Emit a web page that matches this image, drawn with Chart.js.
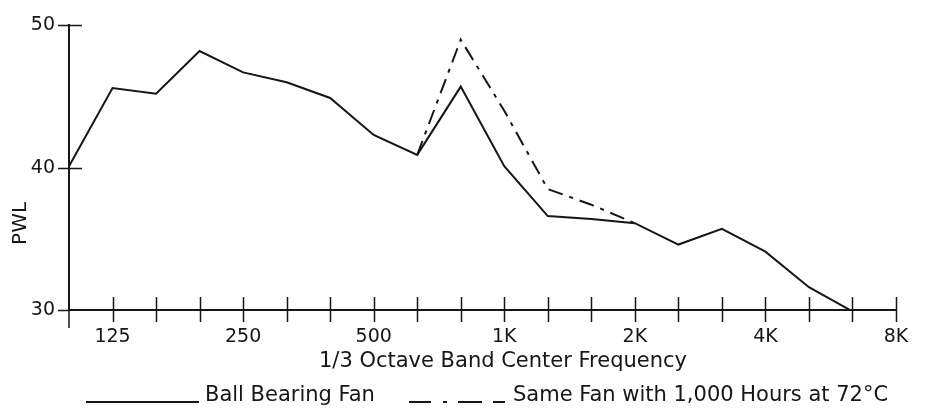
<!DOCTYPE html>
<html>
<head>
<meta charset="utf-8">
<script src="https://cdn.jsdelivr.net/npm/chart.js@4"></script>
<style>
  body { margin: 0; background: #fff; }
  #wrap { position: relative; width: 925px; height: 414px; }
  .legend-item { position: absolute; top: 384px; height: 21px; }
  .legend-item svg { position: absolute; left: 0; top: 16px; }
  .legend-item span {
    position: absolute; top: 0; white-space: nowrap;
    font: 21px/21px "DejaVu Sans", sans-serif; color: #161616;
  }
</style>
</head>
<body>
<div id="wrap">
  <canvas id="pwlChart" width="925" height="414"></canvas>
</div>
<script>
// 1/3 octave band centres, 100 Hz .. 8 kHz
const bands = ['100', '125', '160', '200', '250', '315', '400', '500', '630', '800',
  '1K', '1.25K', '1.6K', '2K', '2.5K', '3.15K', '4K', '5K', '6.3K', '8K'];
const shownBands = ['125', '250', '500', '1K', '2K', '4K', '8K'];

const seriesNames = ['Ball Bearing Fan', 'Same Fan with 1,000 Hours at 72\u00B0C'];

const ballBearingFan = [40.1, 45.6, 45.2, 48.2, 46.7, 46.0, 44.9, 42.3, 40.9, 45.7,
  40.1, 36.6, 36.4, 36.1, 34.6, 35.7, 34.1, 31.6, 29.9, null];
const agedFan = [null, null, null, null, null, null, null, null, 40.9, 49.0,
  44.0, 38.5, 37.4, 36.1, null, null, null, null, null, null];

const yTitle = 'PWL';
const xTitle = '1/3 Octave Band Center Frequency';

const ink = '#161616';
const font = '"DejaVu Sans", sans-serif';
const agedDash = [15, 7, 4, 7];

// axis ticks that cross the axis lines, plus the free-standing titles
const crossTicks = {
  id: 'crossTicks',
  afterDraw(chart) {
    const { ctx, chartArea, scales: { x, y } } = chart;
    ctx.save();
    ctx.strokeStyle = ink;
    ctx.lineWidth = 1.5;
    ctx.beginPath();
    x.ticks.forEach((t, i) => {
      if (i === 0) return;
      const px = Math.round(x.getPixelForTick(i)) + 0.5;
      ctx.moveTo(px, chartArea.bottom - 13);
      ctx.lineTo(px, chartArea.bottom + 12);
    });
    y.ticks.forEach((t, i) => {
      const py = Math.round(y.getPixelForTick(i)) + 0.5;
      ctx.moveTo(chartArea.left - 11, py);
      ctx.lineTo(t.value === y.min ? chartArea.left : chartArea.left + 13, py);
    });
    ctx.moveTo(chartArea.left, chartArea.bottom);
    ctx.lineTo(chartArea.left, chartArea.bottom + 18);
    ctx.stroke();

    ctx.fillStyle = ink;
    ctx.textAlign = 'center';
    ctx.textBaseline = 'middle';
    ctx.font = '21px ' + font;
    ctx.fillText(xTitle, chartArea.left + 434, chartArea.bottom + 52);
    ctx.translate(21, chartArea.top + 198);
    ctx.rotate(-Math.PI / 2);
    ctx.font = '20px ' + font;
    ctx.fillText(yTitle, 0, 0);
    ctx.restore();
  }
};

const chart = new Chart(document.getElementById('pwlChart'), {
  type: 'line',
  data: {
    labels: bands,
    datasets: [
      {
        label: seriesNames[0],
        data: ballBearingFan,
        borderColor: ink,
        borderWidth: 2,
        pointRadius: 0,
        tension: 0
      },
      {
        label: seriesNames[1],
        data: agedFan,
        borderColor: ink,
        borderWidth: 2,
        borderDash: agedDash,
        pointRadius: 0,
        tension: 0
      }
    ]
  },
  options: {
    responsive: false,
    animation: false,
    devicePixelRatio: 1,
    layout: { padding: { top: 17, right: 29, left: 0, bottom: 0 } },
    plugins: {
      legend: { display: false },
      tooltip: { enabled: false }
    },
    scales: {
      x: {
        type: 'category',
        offset: false,
        grid: { drawOnChartArea: false, drawTicks: false },
        border: { display: true, color: ink, width: 2 },
        ticks: {
          autoSkip: false,
          maxRotation: 0,
          padding: 16,
          color: ink,
          font: { family: font, size: 19 },
          callback: (value, index) => shownBands.includes(bands[index]) ? bands[index] : ''
        },
        afterFit: (scale) => { scale.height = 104; }
      },
      y: {
        min: 30,
        max: 50,
        grid: { drawOnChartArea: false, drawTicks: false },
        border: { display: true, color: ink, width: 2 },
        ticks: {
          stepSize: 10,
          padding: 14,
          color: ink,
          font: { family: font, size: 19 }
        },
        afterFit: (scale) => { scale.width = 69; }
      }
    }
  },
  plugins: [crossTicks]
});

// legend drawn as html under the plot
const legendSpots = [{ left: 86, line: 113, gap: 6 }, { left: 409, line: 96, gap: 8 }];
const wrap = document.getElementById('wrap');
chart.data.datasets.forEach((ds, i) => {
  const spot = legendSpots[i];
  const item = document.createElement('div');
  item.className = 'legend-item';
  item.style.left = spot.left + 'px';
  const dash = ds.borderDash ? 'stroke-dasharray="22 12 4 11 24 11 12"' : '';
  item.innerHTML = `
    <svg width="${spot.line}" height="4"><line x1="0" y1="2" x2="${spot.line}" y2="2"
      stroke="${ink}" stroke-width="2" ${dash}/></svg>
    <span style="left:${spot.line + spot.gap}px">${ds.label}</span>`;
  wrap.appendChild(item);
});
</script>
</body>
</html>
